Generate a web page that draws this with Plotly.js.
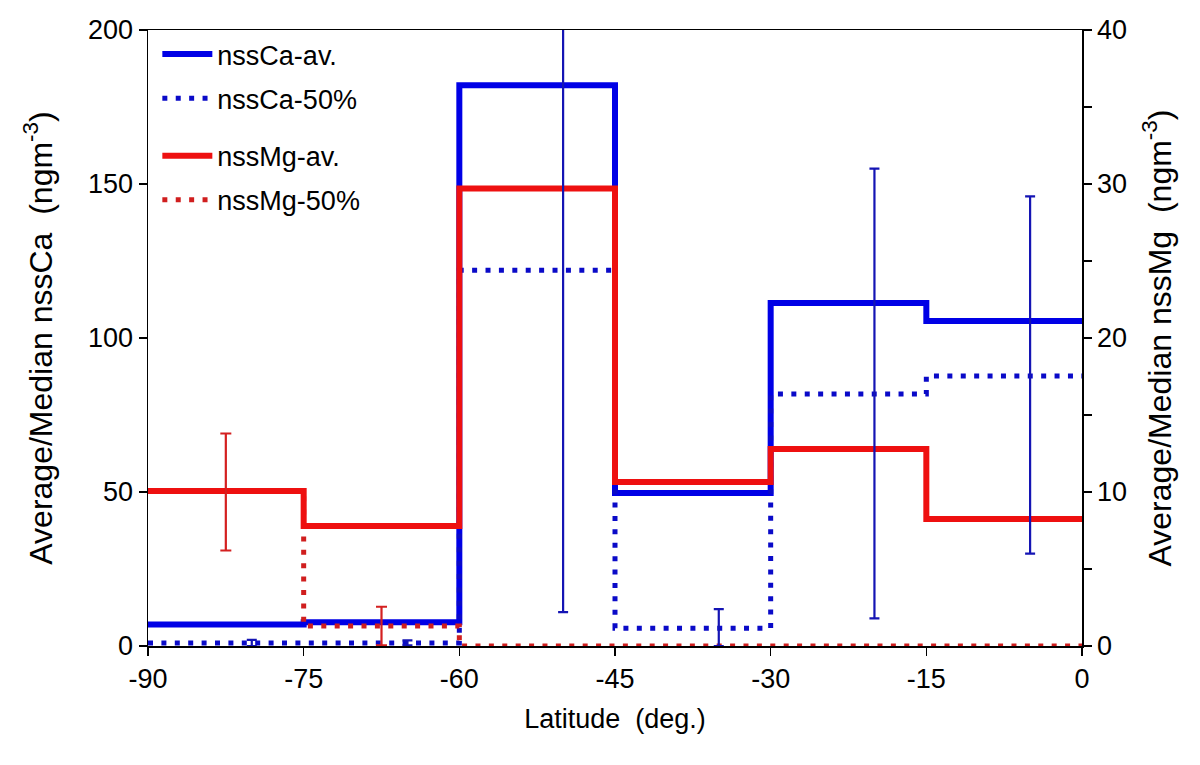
<!DOCTYPE html>
<html>
<head>
<meta charset="utf-8">
<script src="https://cdn.plot.ly/plotly-3.0.1.min.js"></script>
<style>html,body{margin:0;padding:0;background:#fff;}#chart{width:1200px;height:765px;}</style>
</head>
<body>
<div id="chart"></div>
<script>
// Bin edges (latitude, deg.)
const binEdges = [-90, -75, -60, -45, -30, -15, 0];
// nssCa (left axis, ng m-3), one value per 15-deg bin
const caAvg    = [7.0, 7.7, 182.1, 49.7, 111.4, 105.5];
const caMedian = [1.0, 1.0, 122.0, 5.8, 81.8, 87.7];
// nssMg (right axis, ng m-3)
const mgAvg    = [10.06, 7.8, 29.7, 10.65, 12.8, 8.25];
const mgMedian = [10.06, 1.3, 0.0, 0.0, 0.0, 0.0];
// error bars
const caErrX      = [-80, -65, -50, -35, -20, -5];
const caErrCenter = [1.0, 1.0, 122.0, 6.0, 82.0, 88.0];
const caErrSize   = [1.0, 0.8, 111.0, 6.0, 73.0, 58.0];
const mgErrX      = [-82.5, -67.5];
const mgErrCenter = [10.0, 1.3];
const mgErrSize   = [3.8, 1.25];

const xTicks = [-90, -75, -60, -45, -30, -15, 0];

function stepY(v) { return v.concat([v[v.length - 1]]); }

const BLUE = '#0000e6', BLUE_DOT = '#0a0ac8', RED = '#ee1010', RED_DOT = '#d01e1e';
const FONT = 'Liberation Sans, Arial, sans-serif';

const traces = [
  {x: binEdges, y: stepY(caAvg), type: 'scatter', mode: 'lines', name: 'nssCa-av.',
   line: {shape: 'hv', color: BLUE, width: 6}, yaxis: 'y', legend: 'legend', legendgroup: 'a', legendrank: 1},
  {x: binEdges, y: stepY(caMedian), type: 'scatter', mode: 'lines', name: 'nssCa-50%',
   line: {shape: 'hv', color: BLUE_DOT, width: 5, dash: '5px,8.4px'}, yaxis: 'y', legend: 'legend', legendgroup: 'b', legendrank: 2},
  {x: binEdges, y: stepY(mgMedian), type: 'scatter', mode: 'lines', name: 'nssMg-50%',
   line: {shape: 'hv', color: RED_DOT, width: 5, dash: '5px,8.4px'}, yaxis: 'y2', legend: 'legend2', legendgroup: 'd', legendrank: 4},
  {x: binEdges, y: stepY(mgAvg), type: 'scatter', mode: 'lines', name: 'nssMg-av.',
   line: {shape: 'hv', color: RED, width: 6}, yaxis: 'y2', legend: 'legend2', legendgroup: 'c', legendrank: 3},
  {x: mgErrX, y: mgErrCenter, type: 'scatter', mode: 'markers', showlegend: false, hoverinfo: 'skip',
   marker: {size: 1, color: 'rgba(0,0,0,0)'}, yaxis: 'y2',
   error_y: {type: 'data', array: mgErrSize, visible: true, color: '#d42020', thickness: 2.2, width: 5.5}},
  {x: caErrX, y: caErrCenter, type: 'scatter', mode: 'markers', showlegend: false, hoverinfo: 'skip',
   marker: {size: 1, color: 'rgba(0,0,0,0)'}, yaxis: 'y3',
   error_y: {type: 'data', array: caErrSize, visible: true, color: '#1414b4', thickness: 2.2, width: 5}}
];

const axisCommon = {
  showline: true, linecolor: '#000', linewidth: 1.5, ticks: 'outside', ticklen: 8, tickwidth: 1.5,
  tickcolor: '#000', showgrid: false, zeroline: false, tickfont: {family: FONT, size: 27, color: '#000'}
};

const layout = {
  width: 1200, height: 765,
  margin: {l: 148, r: 118, t: 30, b: 119},
  paper_bgcolor: '#fff', plot_bgcolor: '#fff',
  font: {family: FONT, color: '#000'},
  xaxis: Object.assign({}, axisCommon, {
    range: [-90, 0], tickvals: xTicks, ticktext: xTicks.map(String), mirror: true,
    title: {text: 'Latitude  (deg.)', font: {family: FONT, size: 27}, standoff: 16}
  }),
  yaxis: Object.assign({}, axisCommon, {
    range: [0, 200], dtick: 50,
    title: {text: 'Average/Median nssCa  (ngm<sup>-3</sup>)', font: {family: FONT, size: 32}, standoff: 26}
  }),
  yaxis2: Object.assign({}, axisCommon, {
    range: [0, 40], dtick: 10, side: 'right', overlaying: 'y',
    minor: {dtick: 5, ticks: 'outside', ticklen: 8, tickwidth: 1.5, tickcolor: '#000'},
    title: {text: 'Average/Median nssMg  (ngm<sup>-3</sup>)', font: {family: FONT, size: 32}, standoff: 22}
  }),
  yaxis3: {range: [0, 200], overlaying: 'y', visible: false, fixedrange: true},
  legend: {x: 0.01, y: 1.0, xanchor: 'left', yanchor: 'top', bgcolor: 'rgba(0,0,0,0)',
    font: {family: FONT, size: 27, color: '#000'}, itemwidth: 50, tracegroupgap: 6, traceorder: 'grouped'},
  legend2: {x: 0.01, y: 0.835, xanchor: 'left', yanchor: 'top', bgcolor: 'rgba(0,0,0,0)',
    font: {family: FONT, size: 27, color: '#000'}, itemwidth: 50, tracegroupgap: 6, traceorder: 'grouped'},
  showlegend: true
};

Plotly.newPlot('chart', traces, layout, {staticPlot: true, displayModeBar: false});
</script>
</body>
</html>
